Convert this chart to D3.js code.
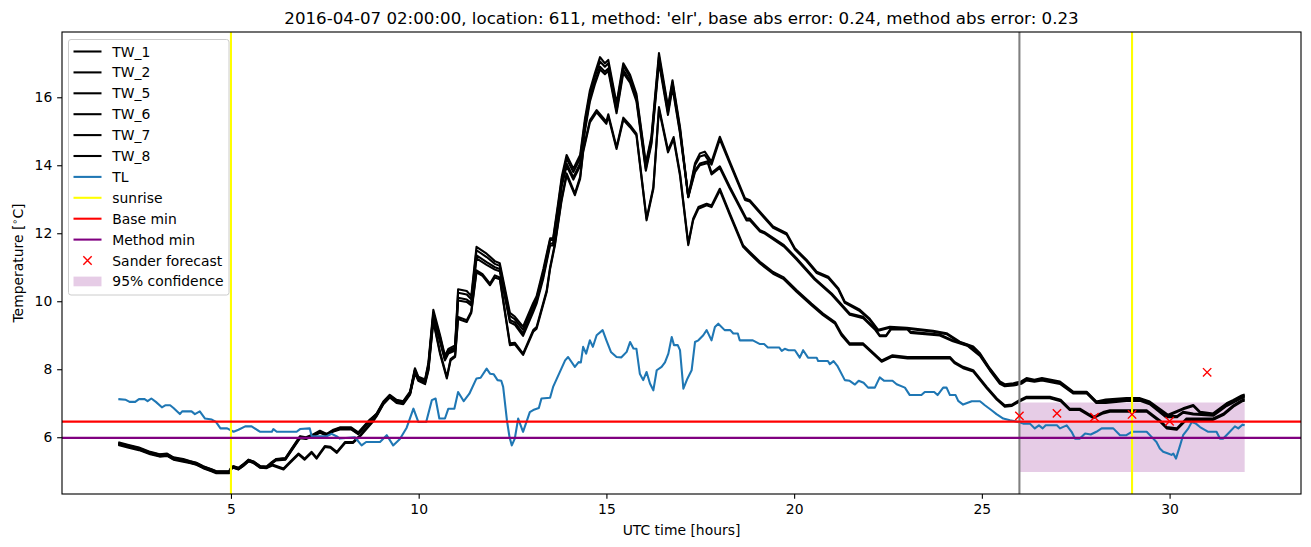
<!DOCTYPE html>
<html><head><meta charset="utf-8">
<script src="https://cdn.jsdelivr.net/npm/d3@7"></script>
<style>body{margin:0;background:#fff} text{font-family:"DejaVu Sans",sans-serif;fill:#000}</style>
</head><body><svg id="c" width="1311" height="547"></svg>
<script>
const xTicks=[5,10,15,20,25,30];
const yTicks=[6,8,10,12,14,16];
const titleText="2016-04-07 02:00:00, location: 611, method: 'elr', base abs error: 0.24, method abs error: 0.23";

const TW_1=[[2.0,5.83],[2.25,5.76],[2.55,5.68],[2.85,5.55],[3.1,5.49],[3.3,5.5],[3.47,5.39],[3.73,5.34],[3.9,5.29],[4.08,5.24],[4.26,5.14],[4.48,5.05],[4.61,4.99],[4.95,4.99],[5.02,5.12],[5.07,5.14],[5.2,5.09],[5.32,5.19],[5.47,5.33],[5.6,5.28],[5.78,5.14],[5.95,5.13],[6.08,5.25],[6.2,5.35],[6.45,5.37],[6.6,5.62],[6.84,6.01],[7.0,5.98],[7.2,6.07],[7.37,6.17],[7.55,6.08],[7.73,6.2],[7.9,6.27],[8.2,6.27],[8.39,6.12],[8.7,6.5],[8.88,6.7],[9.06,7.05],[9.23,7.25],[9.41,7.1],[9.59,7.06],[9.77,7.34],[9.9,8.03],[9.99,7.78],[10.17,7.7],[10.26,8.2],[10.39,9.75],[10.57,9.0],[10.7,8.4],[10.79,8.6],[10.97,8.7],[11.05,10.35],[11.28,10.3],[11.4,10.15],[11.54,11.6],[11.81,11.4],[12.03,11.18],[12.16,11.12],[12.43,9.66],[12.56,9.55],[12.78,9.25],[13.05,9.95],[13.14,10.15],[13.32,10.95],[13.5,11.85],[13.58,11.85],[13.72,12.93],[13.81,13.66],[13.94,14.3],[14.12,13.9],[14.3,14.3],[14.43,15.38],[14.56,16.2],[14.69,16.7],[14.83,17.18],[14.96,17.0],[15.05,17.1],[15.27,15.82],[15.45,17.0],[15.63,16.66],[15.8,16.1],[16.05,14.06],[16.2,14.85],[16.4,17.3],[16.64,15.72],[16.76,16.5],[16.96,15.13],[17.18,13.08],[17.36,14.06],[17.49,14.35],[17.62,14.4],[17.8,14.1],[18.02,14.84],[18.29,14.1],[18.69,13.03],[18.82,12.97],[19.44,12.2],[19.8,12.0],[20.02,11.56],[20.33,11.22],[20.6,10.87],[20.91,10.72],[21.18,10.38],[21.35,9.99],[21.75,9.75],[22.0,9.5],[22.24,9.16],[22.55,9.25],[23.0,9.22],[23.7,9.13],[24.06,9.06],[24.41,8.81],[24.77,8.67],[24.95,8.47],[25.21,8.03],[25.48,7.64],[25.61,7.56],[25.84,7.59],[26.05,7.64],[26.19,7.74],[26.4,7.69],[26.6,7.74],[27.08,7.64],[27.43,7.34],[27.79,7.34],[28.05,7.05],[28.3,7.11],[28.85,7.15],[29.21,7.15],[29.47,7.05],[29.96,6.66],[30.36,6.85],[30.63,6.95],[30.81,6.75],[31.16,6.7],[31.52,7.0],[31.7,7.1],[31.92,7.23],[32.0,7.26]];

const TW_2=[[2.0,5.79],[2.25,5.73],[2.55,5.64],[2.85,5.52],[3.1,5.45],[3.3,5.47],[3.47,5.36],[3.73,5.3],[3.9,5.26],[4.08,5.2],[4.26,5.1],[4.48,5.01],[4.61,4.96],[4.95,4.96],[5.02,5.09],[5.07,5.1],[5.2,5.06],[5.32,5.15],[5.47,5.3],[5.6,5.25],[5.78,5.11],[5.95,5.1],[6.08,5.22],[6.2,5.32],[6.45,5.34],[6.6,5.58],[6.84,5.97],[7.0,5.95],[7.2,6.04],[7.37,6.13],[7.55,6.05],[7.73,6.17],[7.9,6.23],[8.2,6.23],[8.39,6.09],[8.7,6.46],[8.88,6.66],[9.06,7.01],[9.23,7.21],[9.41,7.06],[9.59,7.02],[9.77,7.3],[9.9,7.98],[9.99,7.74],[10.17,7.66],[10.26,8.14],[10.39,9.66],[10.57,8.94],[10.7,8.35],[10.79,8.55],[10.97,8.64],[11.05,10.25],[11.28,10.2],[11.4,10.06],[11.54,11.5],[11.81,11.3],[12.03,11.1],[12.16,11.04],[12.43,9.57],[12.56,9.47],[12.78,9.16],[13.05,9.86],[13.14,10.08],[13.32,10.86],[13.5,11.8],[13.58,11.8],[13.72,12.85],[13.81,13.58],[13.94,14.2],[14.12,13.8],[14.3,14.2],[14.43,15.28],[14.56,16.1],[14.69,16.6],[14.83,17.05],[14.96,16.9],[15.05,17.0],[15.27,15.74],[15.45,16.92],[15.63,16.6],[15.8,16.02],[16.05,14.0],[16.2,14.78],[16.4,17.2],[16.64,15.65],[16.76,16.44],[16.96,15.06],[17.18,13.06],[17.36,14.0],[17.49,14.26],[17.62,14.3],[17.8,14.02],[18.02,14.76],[18.29,14.04],[18.69,12.98],[18.82,12.93],[19.44,12.16],[19.8,11.96],[20.02,11.52],[20.33,11.18],[20.6,10.83],[20.91,10.68],[21.18,10.34],[21.35,9.95],[21.75,9.71],[22.0,9.47],[22.24,9.13],[22.55,9.22],[23.0,9.19],[23.7,9.1],[24.06,9.03],[24.41,8.78],[24.77,8.64],[24.95,8.44],[25.21,8.0],[25.48,7.61],[25.61,7.53],[25.84,7.56],[26.05,7.61],[26.19,7.71],[26.4,7.66],[26.6,7.71],[27.08,7.61],[27.43,7.31],[27.79,7.31],[28.05,7.02],[28.3,7.08],[28.85,7.12],[29.21,7.12],[29.47,7.02],[29.96,6.63],[30.36,6.82],[30.63,6.92],[30.81,6.72],[31.16,6.67],[31.52,6.97],[31.7,7.07],[31.92,7.2],[32.0,7.23]];

const TW_5=[[2.0,5.85],[2.25,5.78],[2.55,5.7],[2.85,5.57],[3.1,5.5],[3.3,5.52],[3.47,5.41],[3.73,5.36],[3.9,5.3],[4.08,5.25],[4.26,5.15],[4.48,5.06],[4.61,5.0],[4.95,5.0],[5.02,5.13],[5.07,5.15],[5.2,5.1],[5.32,5.2],[5.47,5.34],[5.6,5.29],[5.78,5.15],[5.95,5.14],[6.08,5.26],[6.2,5.36],[6.45,5.39],[6.6,5.64],[6.84,6.03],[7.0,6.0],[7.2,6.09],[7.37,6.19],[7.55,6.1],[7.73,6.22],[7.9,6.29],[8.2,6.29],[8.39,6.14],[8.7,6.52],[8.88,6.68],[9.06,7.03],[9.23,7.22],[9.41,7.08],[9.59,7.04],[9.77,7.31],[9.9,7.98],[9.99,7.75],[10.17,7.66],[10.26,8.1],[10.39,9.6],[10.57,8.85],[10.7,8.3],[10.79,8.5],[10.97,8.6],[11.05,10.1],[11.28,10.05],[11.4,9.95],[11.54,11.35],[11.81,11.15],[12.03,11.0],[12.16,10.95],[12.43,9.45],[12.56,9.38],[12.78,9.05],[13.05,9.75],[13.14,10.0],[13.32,10.75],[13.5,11.7],[13.58,11.7],[13.72,12.7],[13.81,13.45],[13.94,14.05],[14.12,13.65],[14.3,14.05],[14.43,15.1],[14.56,15.95],[14.69,16.45],[14.83,16.9],[14.96,16.75],[15.05,16.85],[15.27,15.6],[15.45,16.8],[15.63,16.5],[15.8,15.95],[16.05,13.9],[16.2,14.7],[16.4,17.1],[16.64,15.55],[16.76,16.35],[16.96,15.0],[17.18,13.1],[17.36,13.85],[17.49,14.05],[17.7,14.12],[17.8,13.78],[18.02,13.97],[18.29,13.36],[18.73,12.43],[18.82,12.43],[19.09,12.09],[19.2,12.04],[19.73,11.65],[20.07,11.26],[20.55,10.67],[21.0,10.23],[21.48,9.64],[21.84,9.54],[22.15,9.2],[22.28,9.0],[22.45,9.0],[22.58,9.2],[23.02,9.2],[23.1,9.1],[23.88,9.02],[24.23,8.85],[24.63,8.71],[24.95,8.42],[25.21,8.0],[25.48,7.6],[25.61,7.52],[25.84,7.55],[26.05,7.6],[26.19,7.7],[26.4,7.66],[26.6,7.7],[27.08,7.6],[27.43,7.32],[27.79,7.32],[28.05,7.04],[28.3,7.04],[28.85,7.1],[29.21,7.1],[29.47,7.0],[29.9,6.62],[30.2,6.62],[30.36,6.75],[30.63,6.7],[31.16,6.66],[31.52,6.95],[31.7,7.05],[31.92,7.18],[32.0,7.2]];

const TW_6=[[2.0,5.81],[2.25,5.74],[2.55,5.66],[2.85,5.53],[3.1,5.47],[3.3,5.48],[3.47,5.37],[3.73,5.32],[3.9,5.27],[4.08,5.22],[4.26,5.12],[4.48,5.03],[4.61,4.97],[4.95,4.97],[5.02,5.11],[5.07,5.13],[5.2,5.08],[5.32,5.18],[5.47,5.32],[5.6,5.27],[5.78,5.13],[5.95,5.12],[6.08,5.23],[6.2,5.33],[6.45,5.35],[6.6,5.6],[6.84,5.99],[7.0,5.97],[7.2,6.05],[7.37,6.15],[7.55,6.07],[7.73,6.18],[7.9,6.25],[8.2,6.25],[8.39,6.1],[8.7,6.48],[8.88,6.64],[9.06,7.0],[9.23,7.19],[9.41,7.05],[9.59,7.01],[9.77,7.28],[9.9,7.94],[9.99,7.71],[10.17,7.63],[10.26,8.06],[10.39,9.55],[10.57,8.8],[10.7,8.26],[10.79,8.46],[10.97,8.55],[11.05,10.02],[11.28,9.98],[11.4,9.88],[11.54,11.26],[11.81,11.07],[12.03,10.93],[12.16,10.88],[12.43,9.38],[12.56,9.31],[12.78,8.98],[13.05,9.68],[13.14,9.93],[13.32,10.68],[13.5,11.64],[13.58,11.64],[13.72,12.64],[13.81,13.38],[13.94,13.98],[14.12,13.58],[14.3,13.98],[14.43,15.02],[14.56,15.87],[14.69,16.37],[14.83,16.82],[14.96,16.68],[15.05,16.78],[15.27,15.53],[15.45,16.72],[15.63,16.43],[15.8,15.88],[16.05,13.84],[16.2,14.63],[16.4,17.02],[16.64,15.48],[16.76,16.28],[16.96,14.94],[17.18,13.06],[17.36,13.8],[17.49,14.0],[17.7,14.07],[17.8,13.73],[18.02,13.92],[18.29,13.31],[18.73,12.38],[18.82,12.38],[19.09,12.05],[19.2,12.0],[19.73,11.61],[20.07,11.22],[20.55,10.63],[21.0,10.19],[21.48,9.6],[21.84,9.5],[22.15,9.17],[22.28,8.97],[22.45,8.97],[22.58,9.17],[23.02,9.17],[23.1,9.07],[23.88,8.99],[24.23,8.82],[24.63,8.68],[24.95,8.39],[25.21,7.97],[25.48,7.57],[25.61,7.5],[25.84,7.52],[26.05,7.57],[26.19,7.67],[26.4,7.63],[26.6,7.67],[27.08,7.57],[27.43,7.29],[27.79,7.29],[28.05,7.01],[28.3,7.01],[28.85,7.07],[29.21,7.07],[29.47,6.97],[29.9,6.59],[30.2,6.59],[30.36,6.72],[30.63,6.67],[31.16,6.63],[31.52,6.92],[31.7,7.02],[31.92,7.15],[32.0,7.17]];

const TW_7=[[2.0,5.8],[2.25,5.72],[2.55,5.65],[2.85,5.52],[3.1,5.46],[3.3,5.47],[3.47,5.36],[3.73,5.31],[3.9,5.26],[4.08,5.21],[4.26,5.11],[4.48,5.02],[4.61,4.96],[4.95,4.96],[5.02,5.1],[5.07,5.12],[5.2,5.07],[5.32,5.17],[5.47,5.31],[5.6,5.26],[5.78,5.12],[5.95,5.11],[6.1,5.2],[6.4,5.08],[6.57,5.27],[6.8,5.52],[6.96,5.37],[7.15,5.57],[7.28,5.4],[7.5,5.74],[7.65,5.72],[7.82,5.57],[8.04,5.86],[8.25,5.86],[8.44,6.06],[8.79,6.5],[8.88,6.65],[9.06,7.0],[9.23,7.2],[9.41,7.04],[9.59,7.0],[9.77,7.28],[9.9,7.92],[9.99,7.7],[10.17,7.6],[10.26,8.0],[10.39,9.45],[10.57,8.5],[10.75,7.77],[10.85,8.3],[10.97,8.4],[11.05,9.54],[11.28,9.44],[11.4,9.7],[11.54,10.91],[11.7,10.8],[11.9,10.52],[12.03,10.76],[12.16,10.7],[12.43,8.76],[12.56,8.78],[12.78,8.46],[13.05,9.15],[13.14,9.24],[13.41,10.32],[13.5,11.0],[13.63,11.7],[13.8,12.97],[13.94,13.76],[14.16,13.17],[14.3,13.66],[14.38,14.44],[14.56,15.32],[14.74,15.62],[15.0,15.28],[15.05,15.5],[15.27,14.53],[15.45,15.4],[15.63,15.18],[15.8,14.93],[16.07,12.43],[16.25,13.36],[16.4,15.71],[16.64,14.44],[16.79,14.83],[16.96,13.76],[17.18,11.7],[17.31,12.43],[17.45,12.77],[17.67,12.87],[17.8,12.82],[18.02,13.31],[18.29,12.58],[18.64,11.65],[18.82,11.45],[19.09,11.16],[19.44,10.86],[19.71,10.71],[20.07,10.32],[20.46,9.93],[20.77,9.64],[21.09,9.39],[21.26,9.05],[21.48,8.76],[21.84,8.76],[22.33,8.26],[22.62,8.41],[23.02,8.36],[24.15,8.36],[24.28,8.21],[24.5,8.07],[24.77,7.97],[25.13,7.48],[25.4,7.14],[25.61,6.94],[25.8,6.96],[26.0,7.09],[26.19,7.19],[26.81,7.19],[27.1,7.1],[27.34,6.84],[27.61,6.84],[27.97,6.6],[28.23,6.74],[28.41,6.79],[29.39,6.79],[29.74,6.5],[29.92,6.3],[30.19,6.26],[30.45,6.55],[31.16,6.55],[31.43,6.69],[31.7,6.94],[31.92,7.09],[32.0,7.12]];

const TW_8=[[2.0,5.77],[2.25,5.7],[2.55,5.62],[2.85,5.5],[3.1,5.43],[3.3,5.45],[3.47,5.34],[3.73,5.28],[3.9,5.24],[4.08,5.19],[4.26,5.09],[4.48,5.0],[4.61,4.94],[4.95,4.94],[5.02,5.08],[5.07,5.1],[5.2,5.05],[5.32,5.15],[5.47,5.29],[5.6,5.24],[5.78,5.1],[5.95,5.09],[6.1,5.17],[6.4,5.05],[6.57,5.24],[6.8,5.49],[6.96,5.34],[7.15,5.54],[7.28,5.37],[7.5,5.71],[7.65,5.69],[7.82,5.54],[8.04,5.83],[8.25,5.83],[8.44,6.03],[8.79,6.47],[8.88,6.62],[9.06,6.97],[9.23,7.17],[9.41,7.01],[9.59,6.97],[9.77,7.25],[9.9,7.88],[9.99,7.66],[10.17,7.56],[10.26,7.96],[10.39,9.4],[10.57,8.45],[10.75,7.73],[10.85,8.26],[10.97,8.36],[11.05,9.48],[11.28,9.39],[11.4,9.65],[11.54,10.85],[11.7,10.75],[11.9,10.47],[12.03,10.7],[12.16,10.65],[12.43,8.71],[12.56,8.73],[12.78,8.42],[13.05,9.1],[13.14,9.19],[13.41,10.27],[13.5,10.95],[13.63,11.65],[13.8,12.92],[13.94,13.7],[14.16,13.12],[14.3,13.6],[14.38,14.38],[14.56,15.26],[14.74,15.56],[15.0,15.22],[15.05,15.44],[15.27,14.48],[15.45,15.34],[15.63,15.12],[15.8,14.88],[16.07,12.38],[16.25,13.3],[16.4,15.65],[16.64,14.38],[16.79,14.77],[16.96,13.7],[17.18,11.65],[17.31,12.38],[17.45,12.72],[17.67,12.82],[17.8,12.77],[18.02,13.26],[18.29,12.53],[18.64,11.6],[18.82,11.4],[19.09,11.11],[19.44,10.81],[19.71,10.66],[20.07,10.27],[20.46,9.88],[20.77,9.59],[21.09,9.34],[21.26,9.0],[21.48,8.72],[21.84,8.72],[22.33,8.22],[22.62,8.37],[23.02,8.32],[24.15,8.32],[24.28,8.17],[24.5,8.03],[24.77,7.93],[25.13,7.44],[25.4,7.1],[25.61,6.9],[25.8,6.92],[26.0,7.05],[26.19,7.15],[26.81,7.15],[27.1,7.06],[27.34,6.8],[27.61,6.8],[27.97,6.56],[28.23,6.7],[28.41,6.75],[29.39,6.75],[29.74,6.46],[29.92,6.26],[30.19,6.22],[30.45,6.51],[31.16,6.51],[31.43,6.65],[31.7,6.9],[31.92,7.05],[32.0,7.08]];

const TL=[[2.0,7.12],[2.2,7.1],[2.3,7.04],[2.45,7.04],[2.55,7.12],[2.7,7.12],[2.78,7.06],[2.88,7.14],[3.0,7.04],[3.16,6.88],[3.25,6.94],[3.38,6.94],[3.47,6.86],[3.64,6.68],[3.7,6.76],[3.95,6.76],[4.04,6.68],[4.17,6.76],[4.31,6.55],[4.49,6.52],[4.6,6.45],[4.72,6.26],[4.9,6.26],[5.07,6.16],[5.2,6.22],[5.38,6.32],[5.55,6.32],[5.69,6.22],[5.78,6.16],[6.09,6.16],[6.13,6.24],[6.22,6.16],[6.75,6.16],[6.84,6.24],[7.1,6.26],[7.15,6.03],[7.55,6.03],[7.68,6.1],[7.81,6.03],[7.9,5.96],[8.3,6.0],[8.48,5.76],[8.6,5.86],[8.97,5.86],[9.15,6.06],[9.32,5.76],[9.5,5.95],[9.68,6.28],[9.86,6.84],[9.99,6.45],[10.2,6.45],[10.35,7.09],[10.45,7.14],[10.55,6.55],[10.7,6.55],[10.79,6.84],[10.95,6.84],[11.05,7.33],[11.2,7.06],[11.35,7.28],[11.54,7.73],[11.65,7.75],[11.81,8.02],[11.9,7.87],[12.0,7.85],[12.1,7.68],[12.2,7.66],[12.25,7.48],[12.35,6.5],[12.42,6.0],[12.48,5.76],[12.56,5.96],[12.65,6.55],[12.78,6.16],[12.96,6.74],[13.05,6.8],[13.2,6.86],[13.27,7.14],[13.5,7.16],[13.58,7.48],[13.9,8.26],[13.98,8.36],[14.16,8.07],[14.26,8.21],[14.32,8.2],[14.38,8.66],[14.46,8.46],[14.56,8.85],[14.64,8.66],[14.74,9.0],[14.9,9.15],[15.0,8.85],[15.12,8.51],[15.27,8.36],[15.4,8.35],[15.54,8.51],[15.63,8.8],[15.72,8.61],[15.8,8.6],[15.89,7.87],[15.98,7.68],[16.07,7.92],[16.16,7.58],[16.25,7.38],[16.34,7.97],[16.47,8.07],[16.56,8.2],[16.65,8.46],[16.74,8.95],[16.8,8.71],[16.9,8.71],[16.96,8.56],[17.05,7.43],[17.16,7.73],[17.27,7.97],[17.36,8.8],[17.45,8.85],[17.58,9.0],[17.67,9.15],[17.8,8.85],[17.89,9.24],[17.98,9.34],[18.15,9.15],[18.3,9.15],[18.38,9.05],[18.5,9.05],[18.55,8.85],[18.9,8.85],[19.09,8.74],[19.2,8.74],[19.3,8.64],[19.6,8.64],[19.67,8.54],[19.75,8.6],[19.85,8.56],[20.02,8.56],[20.15,8.34],[20.24,8.56],[20.37,8.34],[20.6,8.34],[20.64,8.24],[20.9,8.24],[20.95,8.15],[21.05,8.24],[21.15,8.1],[21.35,7.68],[21.48,7.66],[21.62,7.55],[21.72,7.66],[21.85,7.6],[21.97,7.46],[22.15,7.46],[22.28,7.76],[22.4,7.66],[22.62,7.66],[22.73,7.56],[22.95,7.46],[23.08,7.24],[23.39,7.24],[23.48,7.33],[23.73,7.33],[23.82,7.24],[23.97,7.46],[24.06,7.46],[24.15,7.24],[24.3,7.24],[24.37,7.07],[24.5,6.96],[24.73,7.06],[24.95,7.06],[25.08,6.94],[25.25,6.8],[25.39,6.68],[25.57,6.55],[25.75,6.5],[25.97,6.45],[26.1,6.4],[26.28,6.4],[26.41,6.26],[26.52,6.35],[26.62,6.26],[26.7,6.35],[27.0,6.35],[27.08,6.26],[27.26,6.35],[27.39,6.16],[27.48,5.96],[27.61,5.96],[27.75,6.11],[27.9,6.08],[28.05,6.16],[28.19,6.26],[28.5,6.26],[28.68,6.06],[28.85,6.06],[28.99,6.16],[29.39,6.16],[29.52,6.01],[29.65,5.86],[29.74,5.67],[29.83,5.57],[29.96,5.52],[30.05,5.48],[30.1,5.52],[30.17,5.37],[30.28,5.76],[30.36,6.06],[30.5,6.26],[30.59,6.45],[30.7,6.4],[30.81,6.3],[31.03,6.16],[31.25,6.16],[31.34,5.96],[31.43,5.96],[31.56,6.11],[31.74,6.32],[31.83,6.26],[31.94,6.37],[32.0,6.35]];

const sunriseHours=[5,29];
const forecastStartHour=26;
const baseMin=6.46;
const methodMin=5.98;
const sanderHours=[26,27,28,29,30,31];
const sanderValues=[6.63,6.7,6.59,6.67,6.47,7.91];
const confHours=[26,32];
const confLow=[4.98,4.98];
const confHigh=[7.02,7.02];

const legendLabels=["TW_1","TW_2","TW_5","TW_6","TW_7","TW_8","TL","sunrise","Base min","Method min","Sander forecast","95% confidence"];

const L=62,R=1301,T=32,B=494;
const LW=2.08;
const x=d3.scaleLinear().domain([0.5,33.5]).range([L,R]);
const y=d3.scaleLinear().domain([4.33,17.92]).range([B,T]);
const svg=d3.select("#c");
svg.append("defs").append("clipPath").attr("id","clip").append("rect")
  .attr("x",L).attr("y",T).attr("width",R-L).attr("height",B-T);
const plot=svg.append("g").attr("clip-path","url(#clip)");

// confidence band
const band=confHours.map((h,i)=>({h,lo:confLow[i],hi:confHigh[i]}));
plot.append("path").datum(band)
  .attr("d",d3.area().x(d=>x(d.h)).y0(d=>y(d.lo)).y1(d=>y(d.hi)))
  .attr("fill","purple").attr("fill-opacity",0.2);

const line=d3.line().x(d=>x(d[0])).y(d=>y(d[1]));
[TW_1,TW_2,TW_5,TW_6,TW_7,TW_8].forEach(s=>{
  plot.append("path").datum(s).attr("d",line).attr("fill","none")
    .attr("stroke","#000").attr("stroke-width",LW).attr("stroke-linejoin","round");
});
plot.append("path").datum(TL).attr("d",line).attr("fill","none")
  .attr("stroke","#1f77b4").attr("stroke-width",LW).attr("stroke-linejoin","round");

// vertical lines
plot.selectAll(".sun").data(sunriseHours).enter().append("line")
  .attr("x1",d=>x(d)).attr("x2",d=>x(d)).attr("y1",T).attr("y2",B)
  .attr("stroke","yellow").attr("stroke-width",LW);
plot.append("line").attr("x1",x(forecastStartHour)).attr("x2",x(forecastStartHour))
  .attr("y1",T).attr("y2",B).attr("stroke","gray").attr("stroke-width",LW);
// horizontal lines
plot.append("line").attr("x1",L).attr("x2",R).attr("y1",y(baseMin)).attr("y2",y(baseMin))
  .attr("stroke","red").attr("stroke-width",LW);
plot.append("line").attr("x1",L).attr("x2",R).attr("y1",y(methodMin)).attr("y2",y(methodMin))
  .attr("stroke","purple").attr("stroke-width",LW);

// sander forecast markers
const mk=4.17;
sanderHours.forEach((h,i)=>{
  const cx=x(h), cy=y(sanderValues[i]);
  plot.append("path").attr("d",`M${cx-mk},${cy-mk}L${cx+mk},${cy+mk}M${cx-mk},${cy+mk}L${cx+mk},${cy-mk}`)
    .attr("stroke","red").attr("stroke-width",1.4).attr("fill","none");
});

// axes
const fs=13.9;
const xa=svg.append("g").attr("transform",`translate(0,${B})`)
  .call(d3.axisBottom(x).tickValues(xTicks).tickSize(4.86).tickPadding(4.86).tickFormat(d3.format("d")));
const ya=svg.append("g").attr("transform",`translate(${L},0)`)
  .call(d3.axisLeft(y).tickValues(yTicks).tickSize(4.86).tickPadding(4.86).tickFormat(d3.format("d")));
[xa,ya].forEach(a=>{
  a.select(".domain").remove();
  a.selectAll("line").attr("stroke","#000").attr("stroke-width",1.11);
  a.selectAll("text").attr("font-size",fs).attr("font-family","DejaVu Sans").attr("fill","#000");
});
// spines
svg.append("rect").attr("x",L).attr("y",T).attr("width",R-L).attr("height",B-T)
  .attr("fill","none").attr("stroke","#000").attr("stroke-width",1.11);

// title and labels
svg.append("text").attr("x",(L+R)/2).attr("y",23.5).attr("text-anchor","middle")
  .attr("font-size",16.67).text(titleText);
svg.append("text").attr("x",(L+R)/2).attr("y",535).attr("text-anchor","middle")
  .attr("font-size",fs).text("UTC time [hours]");
const yl=svg.append("text").attr("transform",`translate(23,${(T+B)/2}) rotate(-90)`)
  .attr("text-anchor","middle").attr("font-size",fs);
yl.append("tspan").text("Temperature [");
yl.append("tspan").attr("font-size",9.7).attr("dy",-5.5).text("\u2218");
yl.append("tspan").attr("dy",5.5).text("C]");

// legend
const lg=svg.append("g");
lg.append("rect").attr("x",68.5).attr("y",39.5).attr("width",160.5).attr("height",255.5)
  .attr("rx",2.5).attr("fill","#fff").attr("fill-opacity",0.8).attr("stroke","#cccccc").attr("stroke-width",1);
const rowY=i=>51.5+i*20.9;
const handleColors=["#000","#000","#000","#000","#000","#000","#1f77b4","yellow","red","purple"];
legendLabels.forEach((lab,i)=>{
  const yy=rowY(i);
  if(i<10){
    lg.append("line").attr("x1",73.5).attr("x2",101.5).attr("y1",yy).attr("y2",yy)
      .attr("stroke",handleColors[i]).attr("stroke-width",LW);
  } else if(i===10){
    const cx=87.5;
    lg.append("path").attr("d",`M${cx-mk},${yy-mk}L${cx+mk},${yy+mk}M${cx-mk},${yy+mk}L${cx+mk},${yy-mk}`)
      .attr("stroke","red").attr("stroke-width",1.4);
  } else {
    lg.append("rect").attr("x",73.5).attr("y",yy-4.8).attr("width",28).attr("height",9.7)
      .attr("fill","purple").attr("fill-opacity",0.2);
  }
  lg.append("text").attr("x",112.3).attr("y",yy).attr("dy","0.36em").attr("font-size",fs).text(lab);
});
</script></body></html>
